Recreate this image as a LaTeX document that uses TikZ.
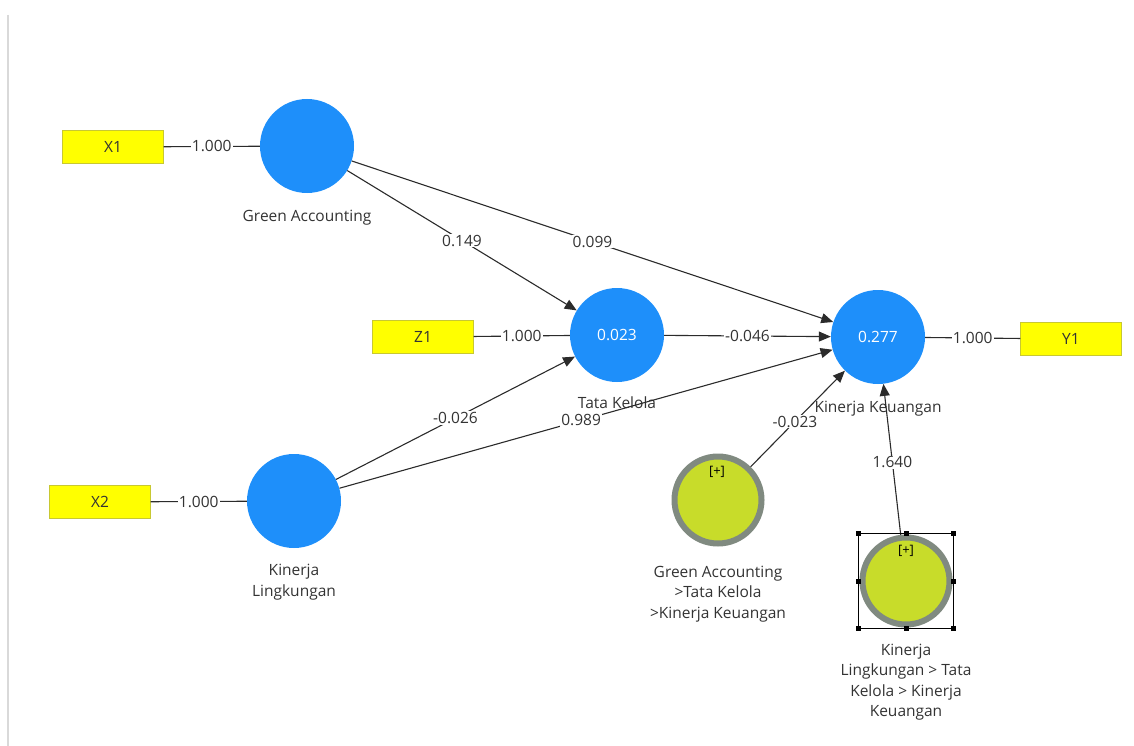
\documentclass[tikz,border=0pt]{standalone}
\usepackage{fontspec}
\setmainfont{Open Sans}
\usetikzlibrary{arrows.meta}
\definecolor{cblue}{HTML}{1E8FFA}
\definecolor{cyellow}{HTML}{FFFF00}
\definecolor{cyborder}{HTML}{C8C832}
\definecolor{clime}{HTML}{C8DC2A}
\definecolor{cring}{HTML}{808A80}
\definecolor{cline}{HTML}{2B2B2B}
\definecolor{ctext}{HTML}{333333}
\definecolor{cframe}{HTML}{D9D9D9}

\begin{document}
\begin{tikzpicture}[x=1pt,y=-1pt,
  every node/.style={font=\fontsize{15.5}{20.5}\selectfont, text=ctext},
  latent/.style={circle,fill=cblue,minimum size=94pt,inner sep=0pt,text=white},
  indicator/.style={draw=cyborder,fill=cyellow,minimum width=101pt,minimum height=33pt,inner sep=0pt},
  moderator/.style={circle,fill=clime,draw=cring,line width=6pt,minimum size=87pt,inner sep=0pt},
  lvname/.style={align=center,inner sep=1pt},
  plus/.style={font=\fontsize{13}{15}\selectfont,text=black,inner sep=0pt},
  structural/.style={draw=cline,line width=1.1pt,-{Triangle[length=12pt,width=10pt]}},
  loading/.style={draw=cline,line width=1.1pt},
  coef/.style={fill=white,inner sep=1pt,pos=0.5},
  selbox/.style={draw=black,line width=0.8pt,minimum width=95pt,minimum height=95pt,inner sep=0pt},
  handle/.style={fill=black,minimum size=5pt,inner sep=0pt}]
  \useasboundingbox (0,0) rectangle (1134,746);
  \draw[cframe,line width=1.5pt] (8,15) -- (8,746);

  % indicators and constructs
  \node[indicator] (x1) at (113,147) {X1};
  \node[indicator] (z1) at (423,337) {Z1};
  \node[indicator] (x2) at (100,502) {X2};
  \node[indicator] (y1) at (1071,339) {Y1};
  \node[latent] (ga) at (307,146) {};
  \node[latent] (tk) at (617,335) {0.023};
  \node[latent] (kk) at (878,337) {0.277};
  \node[latent] (kl) at (294,501) {};
  \node[moderator] (m1) at (718,500) {};
  \node[moderator] (m2) at (906,581) {};
  \node[plus] (m1-p) at (717,472) {[+]};
  \node[plus] (m2-p) at (906,551) {[+]};

  % construct names
  \node[lvname] (ga-l) at (307,218) {Green Accounting};
  \node[lvname] (tk-l) at (617,403) {Tata Kelola};
  \node[lvname] (kk-l) at (878,409) {Kinerja Keuangan};
  \node[lvname] (kl-l) at (294,582) {Kinerja\\Lingkungan};
  \node[lvname] (m1-l) at (718,594) {Green Accounting\\>Tata Kelola\\>Kinerja Keuangan};
  \node[lvname] (m2-l) at (906,682) {Kinerja\\Lingkungan > Tata\\Kelola > Kinerja\\Keuangan};

  % loadings
  \draw[loading] (x1) -- node[coef] {1.000} (ga);
  \draw[loading] (z1) -- node[coef] {1.000} (tk);
  \draw[loading] (x2) -- node[coef] {1.000} (kl);
  \draw[loading] (kk) -- node[coef] {1.000} (y1);

  % path coefficients
  \draw[structural] (ga) -- node[coef] {0.149} (tk);
  \draw[structural] (ga) -- node[coef] {0.099} (kk);
  \draw[structural] (tk) -- node[coef] {-0.046} (kk);
  \draw[structural] (kl) -- node[coef] {-0.026} (tk);
  \draw[structural] (kl) -- node[coef,pos=0.49] {0.989} (kk);
  \draw[structural] (m1) -- node[coef,pos=0.47] {-0.023} (kk);
  \draw[structural] (m2) -- node[coef,pos=0.48] {1.640} (kk);

  % selection
  \node[selbox] (sel) at (906,581) {};
  \foreach \a in {north west,north,north east,east,south east,south,south west,west}
    \node[handle] (h-\a) at (sel.\a) {};
\end{tikzpicture}
\end{document}
